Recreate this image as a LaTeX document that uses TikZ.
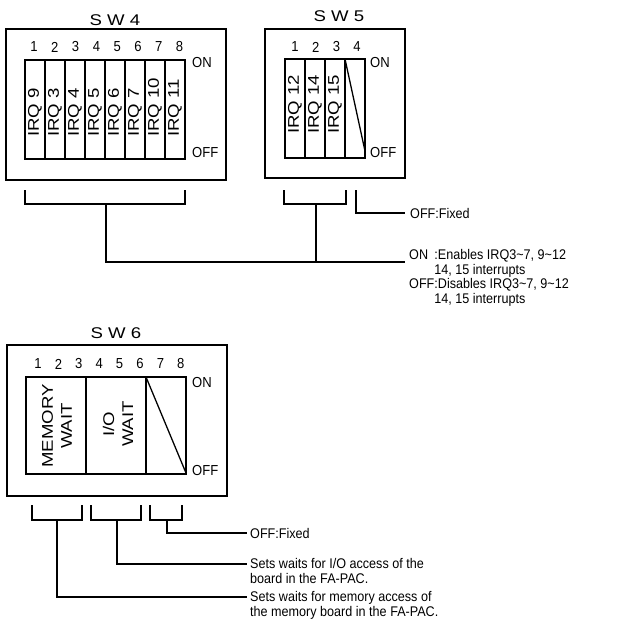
\documentclass[tikz,border=0pt]{standalone}
\usepackage{fontspec}
\setmainfont{Liberation Sans}[FakeStretch=0.9]
\newfontfamily\widefont{Liberation Sans}[FakeStretch=1.2]
\usepackage{tikz}
\usetikzlibrary{positioning,calc}

\begin{document}
\begin{tikzpicture}[x=1pt, y=-1pt,
    frame/.style={draw, line width=1.6pt},
    cell/.style={draw, line width=1.3pt},
    num/.style={font=\fontsize{14.5}{15}\selectfont, inner sep=0pt},
    title/.style={font=\widefont\fontsize{15.5}{16}\selectfont, inner sep=0pt},
    irq/.style={font=\widefont\fontsize{15.5}{17}\selectfont, rotate=90, anchor=west, inner sep=0pt},
    wait/.style={font=\widefont\fontsize{15.5}{19}\selectfont, rotate=90, align=center, inner sep=0pt},
    onoff/.style={font=\fontsize{14.5}{15}\selectfont, anchor=west, inner sep=0pt},
    note/.style={font=\fontsize{14}{14.7}\selectfont, inner sep=0pt},
    lead/.style={line width=1.3pt}
]
\useasboundingbox (0,0) rectangle (636,632);

% SW4
\node[title] (sw4t) at (115,20) {S W 4};
\draw[frame] (6,29) rectangle (226,180);
\draw[cell] (25,60) rectangle (185,159);
\foreach \i in {1,...,7}
    \draw[cell] ({25+20*\i},60) -- ({25+20*\i},159);
\foreach \i in {1,...,8}
    \node[num] (sw4n\i) at ({34+20.8*(\i-1)},47) {\i};
\foreach \irqno [count=\i] in {9,3,4,5,6,7,10,11}
    \node[irq] (sw4q\i) at ({35+20*(\i-1)},137) {IRQ \irqno};
\node[onoff] (sw4on) at (192,63) {ON};
\node[onoff] (sw4off) at (192,153) {OFF};

% SW5
\node[title] (sw5t) at (339,16) {S W 5};
\draw[frame] (265,29) rectangle (405,178);
\draw[cell] (285,59) rectangle (365,158);
\foreach \i in {1,...,3}
    \draw[cell] ({285+20*\i},59) -- ({285+20*\i},158);
\draw[cell] (345,59) -- (365,151);
\foreach \i in {1,...,4}
    \node[num] (sw5n\i) at ({295+20.7*(\i-1)},47) {\i};
\foreach \irqno [count=\i] in {12,14,15}
    \node[irq] (sw5q\i) at ({295+20*(\i-1)},134) {IRQ \irqno};
\node[onoff] (sw5on) at (370,63) {ON};
\node[onoff] (sw5off) at (370,153) {OFF};

% brackets under SW4 / SW5
\draw[lead] (25,190) -- (25,204) -- (185,204) -- (185,190);
\draw[lead] (284,190) -- (284,204) -- (346,204) -- (346,190);
\coordinate (sw4s) at (106,204);
\coordinate (sw5s) at (316,204);
\coordinate (sw5f) at (356,190);
\coordinate (fixA) at (405,213);
\coordinate (onA) at (405,262);
\node[note, anchor=west] (fixAtxt) at ([xshift=5pt]fixA) {OFF:Fixed};
\node[note, anchor=base west] (onAtxt) at ([shift={(4,-2.5)}]onA) {%
    \begin{tabular}[t]{@{}l@{}l@{}}
    ON\ \  & :Enables IRQ3\textasciitilde7, 9\textasciitilde12\\
           & 14, 15 interrupts\\
    OFF    & :Disables IRQ3\textasciitilde7, 9\textasciitilde12\\
           & 14, 15 interrupts
    \end{tabular}};
\draw[lead] (sw5f) |- (fixA);
\draw[lead] (sw4s) |- (onA);
\draw[lead] (sw5s) -- (sw5s |- onA);

% SW6
\node[title] (sw6t) at (116,333) {S W 6};
\draw[frame] (7,345) rectangle (227,496);
\draw[cell] (26,377) rectangle (186,474);
\draw[cell] (86,377) -- (86,474);
\draw[cell] (146,377) -- (146,474);
\draw[cell] (146,377) -- (186,473);
\foreach \i in {1,...,8}
    \node[num] (sw6n\i) at ({38+20.4*(\i-1)},364) {\i};
\node[wait] (memw) at (57,426) {MEMORY\\WAIT};
\node[wait] (iow) at (118,424) {I/O\\WAIT};
\node[onoff] (sw6on) at (192,382) {ON};
\node[onoff] (sw6off) at (192,470) {OFF};

% brackets under SW6
\draw[lead] (32,505) -- (32,520) -- (82,520) -- (82,505);
\draw[lead] (91,505) -- (91,520) -- (141,520) -- (141,505);
\draw[lead] (150,505) -- (150,520) -- (182,520) -- (182,505);
\coordinate (b6a) at (57,520);
\coordinate (b6b) at (117,520);
\coordinate (b6c) at (167,520);
\coordinate (e6a) at (247,597);
\coordinate (e6b) at (247,564);
\coordinate (e6c) at (247,533);
\node[note, anchor=west] (fixB) at ([xshift=3pt]e6c) {OFF:Fixed};
\node[note, anchor=base west] (iotxt) at ([shift={(3,4.5)}]e6b) {%
    \begin{tabular}[t]{@{}l@{}}
    Sets waits for I/O access of the\\
    board in the FA-PAC.
    \end{tabular}};
\node[note, anchor=base west] (memtxt) at ([shift={(3,4.5)}]e6a) {%
    \begin{tabular}[t]{@{}l@{}}
    Sets waits for memory access of\\
    the memory board in the FA-PAC.
    \end{tabular}};
\draw[lead] (b6c) |- (e6c);
\draw[lead] (b6b) |- (e6b);
\draw[lead] (b6a) |- (e6a);

\end{tikzpicture}
\end{document}
